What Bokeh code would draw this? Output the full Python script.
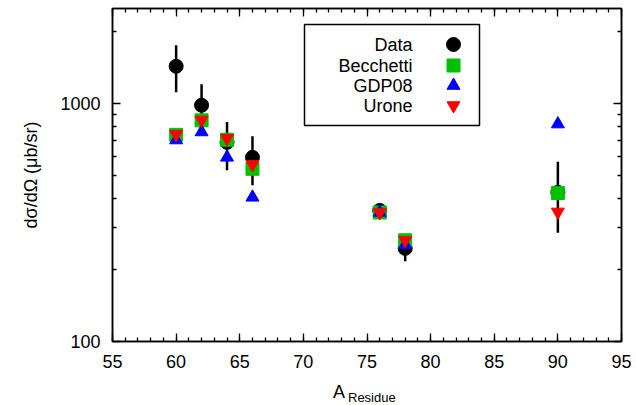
import math
from bokeh.plotting import figure
from bokeh.layouts import column
from bokeh.models import FixedTicker, LinearAxis, LogAxis, PrintfTickFormatter, Div
from bokeh.embed import file_html
from bokeh.resources import INLINE
from bokeh.core.properties import value

# ---- data ----
A = [60, 62, 64, 66, 76, 78, 90]
data_y = [1430, 981, 686, 593, 355, 246, 423]
data_lo = [1112, 800, 524, 453, 335, 217, 286]
data_hi = [1753, 1202, 834, 727, 375, 279, 569]
becchetti = [737, 848, 703, 531, 348, 266, 420]
gdp08 = [701, 758, 593, 403, 348, 255, 818]
urone = [741, 851, 713, 554, 348, 266, 350]

series_names = ["Data", "Becchetti", "GDP08", "Urone"]
x_ticks = [55, 60, 65, 70, 75, 80, 85, 90, 95]
x_minor = list(range(55, 96))
y_ticks = [100, 1000]
y_minor = [200, 300, 400, 500, 600, 700, 800, 900, 2000]

X0, X1 = 55, 95
Y0, Y1 = 100, 2500

FONT = "Liberation Sans"

# frame placement in picture pixels
FL, FR, FT, FB = 112, 621, 9, 342

def xd(px):
    return X0 + (px - FL) * (X1 - X0) / (FR - FL)

def yd(py):
    lg = math.log10(Y0) + (FB - py) * (math.log10(Y1) - math.log10(Y0)) / (FB - FT)
    return 10 ** lg

p = figure(frame_width=FR - FL, frame_height=FB - FT,
           x_range=(X0, X1), y_range=(Y0, Y1), y_axis_type="log",
           output_backend="svg", toolbar_location=None,
           min_border_left=FL, min_border_top=FT - 1,
           min_border_right=14, min_border_bottom=380 - FB,
           background_fill_color="white", border_fill_color="white")
p.grid.visible = False
p.outline_line_color = "black"
p.outline_line_width = 1.5

def style_axis(ax, labels=True):
    ax.axis_line_color = "black"
    ax.axis_line_width = 1.5
    ax.major_tick_in = 8
    ax.major_tick_out = 0
    ax.minor_tick_in = 4
    ax.minor_tick_out = 0
    ax.major_tick_line_color = "black"
    ax.minor_tick_line_color = "black"
    ax.major_tick_line_width = 1.3
    ax.minor_tick_line_width = 1.3
    if labels:
        ax.major_label_text_font = FONT
        ax.major_label_text_font_size = "18px"
        ax.major_label_text_color = "black"
    else:
        ax.major_label_text_font_size = "1px"
        ax.major_label_text_alpha = 0
        ax.major_label_standoff = 0

p.xaxis.ticker = FixedTicker(ticks=x_ticks, minor_ticks=x_minor)
p.yaxis.ticker = FixedTicker(ticks=y_ticks, minor_ticks=y_minor)
p.yaxis.formatter = PrintfTickFormatter(format="%d")
style_axis(p.xaxis[0])
style_axis(p.yaxis[0])
p.xaxis.major_label_standoff = 13
p.yaxis.major_label_standoff = 12

p.yaxis.axis_label = "dσ/dΩ (μb/sr)"
p.yaxis.axis_label_text_font = FONT
p.yaxis.axis_label_text_font_size = "18px"
p.yaxis.axis_label_text_font_style = "normal"
p.yaxis.axis_label_text_color = "black"
p.yaxis.axis_label_standoff = 16

top = LinearAxis(ticker=FixedTicker(ticks=x_ticks, minor_ticks=x_minor))
style_axis(top, labels=False)
p.add_layout(top, "above")
right = LogAxis(ticker=FixedTicker(ticks=y_ticks, minor_ticks=y_minor),
                formatter=PrintfTickFormatter(format="%d"))
style_axis(right, labels=False)
p.add_layout(right, "right")

# error bars and markers
p.segment(x0=A, y0=data_lo, x1=A, y1=data_hi, line_color="black", line_width=2.5)
p.scatter(A, data_y, marker="circle", size=14, fill_color="black", line_color="black")
p.scatter(A, becchetti, marker="square", size=13, fill_color="#00c000", line_color="#00c000")
p.scatter(A, gdp08, marker="triangle", size=13, fill_color="#0000ff", line_color="#0000ff")
p.scatter(A, urone, marker="inverted_triangle", size=13, fill_color="#ff0000", line_color="#ff0000")

# legend (manual: text right-aligned, symbol on the right)
p.quad(left=[xd(304)], right=[xd(479)], top=[yd(25)], bottom=[yd(126)],
       fill_color="white", line_color="black", line_width=1.5)
rows = [45, 66, 86, 106]
p.text(x=[xd(412)] * 4, y=[yd(r) for r in rows], text=series_names,
       text_align="right", text_baseline="middle",
       text_font=value(FONT), text_font_size="18px", text_color="black")
sx = xd(453)
p.scatter([sx], [yd(rows[0])], marker="circle", size=14, fill_color="black", line_color="black")
p.scatter([sx], [yd(rows[1])], marker="square", size=13, fill_color="#00c000", line_color="#00c000")
p.scatter([sx], [yd(rows[2])], marker="triangle", size=13, fill_color="#0000ff", line_color="#0000ff")
p.scatter([sx], [yd(rows[3])], marker="inverted_triangle", size=13, fill_color="#ff0000", line_color="#ff0000")

# x-axis label with subscript (HTML text)
xlabel = Div(
    text=('<div style="position:relative;width:636px;height:25px;'
          'font-family:\'Liberation Sans\';color:black;">'
          '<span style="position:absolute;left:333px;top:4px;font-size:18px;line-height:18px;">A</span>'
          '<span style="position:absolute;left:348px;top:12px;font-size:13px;line-height:13px;">Residue</span>'
          '</div>'),
    width=636, height=25, margin=(0, 0, 0, 0))

layout = column(p, xlabel, spacing=0)

open("out.html", "w").write(file_html(layout, INLINE))
